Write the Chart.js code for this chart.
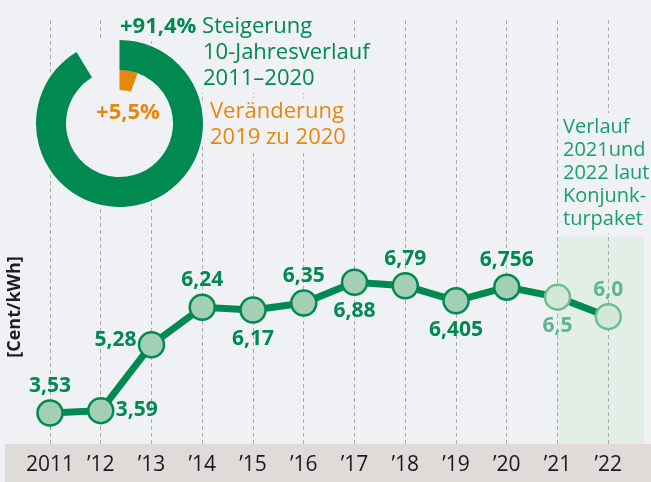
<!DOCTYPE html>
<html><head><meta charset="utf-8">
<script src="https://cdn.jsdelivr.net/npm/chart.js@4/dist/chart.umd.min.js"></script>
<style>
html,body{margin:0;padding:0;background:#f0f1f5;}
#wrap{position:relative;width:651px;height:482px;overflow:hidden;}
#mainBox{position:absolute;left:0;top:0;width:651px;height:482px;}
#donutBox{position:absolute;left:36px;top:40px;width:167px;height:167px;}
</style></head><body>
<div id="wrap">
  <div id="mainBox"><canvas id="main"></canvas></div>
  <div id="donutBox"><canvas id="donut"></canvas></div>
</div>
<script>
// ---- data ----
const years = ['2011', '\u201912', '\u201913', '\u201914', '\u201915', '\u201916', '\u201917', '\u201918', '\u201919', '\u201920', '\u201921', '\u201922'];
const prices = [3.53, 3.59, 5.28, 6.24, 6.17, 6.35, 6.88, 6.79, 6.405, 6.756, 6.5, 6.0];
const priceLabels = ['3,53', '3,59', '5,28', '6,24', '6,17', '6,35', '6,88', '6,79', '6,405', '6,756', '6,5', '6,0'];
const labelSide = ['above', 'right', 'left', 'above', 'below', 'above', 'below', 'above', 'below', 'above', 'below', 'above'];
const projected = [false, false, false, false, false, false, false, false, false, false, true, true];
const donutValues = [91.4, 5.5];
const axisTitle = '[Cent/kWh]';
const noteGreen = ['+91,4%', ' Steigerung', '10-Jahresverlauf', '2011\u20132020'];
const noteOrange = ['+5,5%', 'Ver\u00e4nderung', '2019 zu 2020'];
const noteRight = ['Verlauf', '2021und', '2022 laut', 'Konjunk-', 'turpaket'];

// ---- styles ----
const BG = '#f0f1f5';
const GREEN = '#008950';
const ORANGE = '#e8870b';
const LIGHT = '#62b68c';
const FONT = "'Open Sans', sans-serif";

function draw() {
  Chart.defaults.font.family = FONT;

  function textBoxes() {
    return [
      {t: noteGreen[0], x: 120, y: 33, f: 'bold 22px ' + FONT, c: GREEN, join: 1},
      {t: noteGreen[2], x: 203, y: 59, f: '22px ' + FONT, c: GREEN},
      {t: noteGreen[3], x: 203, y: 85, f: '22px ' + FONT, c: GREEN},
      {t: noteOrange[1], x: 210, y: 118, f: '22px ' + FONT, c: ORANGE},
      {t: noteOrange[2], x: 210, y: 144, f: '22px ' + FONT, c: ORANGE},
      ...noteRight.map((t, i) => ({t, x: 563, y: 133 + i * 23, f: '20px ' + FONT, c: '#17a06b'}))
    ];
  }

  const deco = {
    id: 'deco',
    beforeDraw(chart) {
      const ctx = chart.ctx;
      ctx.save();
      ctx.fillStyle = BG;
      ctx.fillRect(0, 0, chart.width, chart.height);
      ctx.fillStyle = '#dfdbd9';
      ctx.fillRect(5, 444, chart.width - 5, chart.height - 444);
      const xs = chart.scales.x;
      const x21 = xs.getPixelForValue(10);
      ctx.fillStyle = '#e2efe7';
      ctx.fillRect(x21, 237, 644 - x21, 444 - 237);
      ctx.restore();
    },
    beforeDatasetsDraw(chart) {
      const ctx = chart.ctx;
      ctx.save();
      ctx.fillStyle = BG;
      ctx.beginPath();
      ctx.arc(119.5, 123.5, 86, 0, Math.PI * 2);
      ctx.fill();
      for (const b of textBoxes()) {
        ctx.font = b.f;
        let w = ctx.measureText(b.t).width;
        if (b.join) { ctx.font = '22px ' + FONT; w += ctx.measureText(noteGreen[1]).width; }
        ctx.fillRect(b.x - 4, b.y - 20, w + 8, 28);
      }
      ctx.restore();
    },
    afterDraw(chart) {
      const ctx = chart.ctx;
      ctx.save();
      ctx.textBaseline = 'alphabetic';
      ctx.textAlign = 'left';
      for (const b of textBoxes()) {
        ctx.font = b.f; ctx.fillStyle = b.c;
        ctx.fillText(b.t, b.x, b.y);
        if (b.join) {
          const w = ctx.measureText(b.t).width;
          ctx.font = '22px ' + FONT;
          ctx.fillText(noteGreen[1], b.x + w, b.y);
        }
      }
      ctx.font = 'bold 22px ' + FONT; ctx.fillStyle = ORANGE; ctx.textAlign = 'center';
      ctx.fillText(noteOrange[0], 128, 119);
      // y axis title
      ctx.translate(15, 307);
      ctx.rotate(-Math.PI / 2);
      ctx.font = 'bold 18px ' + FONT; ctx.fillStyle = '#1e1e1e';
      ctx.textBaseline = 'middle';
      ctx.fillText(axisTitle, 0, 0);
      ctx.restore();
    },
    afterDatasetsDraw(chart) {
      const ctx = chart.ctx;
      const meta = chart.getDatasetMeta(0);
      ctx.save();
      ctx.font = 'bold 21px ' + FONT;
      ctx.textBaseline = 'middle';
      meta.data.forEach((pt, i) => {
        ctx.fillStyle = projected[i] ? LIGHT : GREEN;
        const side = labelSide[i];
        if (side === 'above') { ctx.textAlign = 'center'; ctx.fillText(priceLabels[i], pt.x, pt.y - 27); }
        else if (side === 'below') { ctx.textAlign = 'center'; ctx.fillText(priceLabels[i], pt.x, pt.y + 29); }
        else if (side === 'right') { ctx.textAlign = 'left'; ctx.fillText(priceLabels[i], pt.x + 15, pt.y - 1); }
        else { ctx.textAlign = 'right'; ctx.fillText(priceLabels[i], pt.x - 15, pt.y - 5); }
      });
      ctx.restore();
    }
  };

  new Chart(document.getElementById('main'), {
    type: 'line',
    data: {
      labels: years,
      datasets: [{
        data: prices,
        borderColor: GREEN,
        borderWidth: 7,
        tension: 0,
        pointRadius: 12.5,
        pointBorderWidth: 2.5,
        pointBackgroundColor: projected.map(p => p ? '#d4e8da' : '#a3cfb4'),
        pointBorderColor: projected.map(p => p ? '#6dbd93' : GREEN),
        clip: false
      }]
    },
    options: {
      responsive: true, maintainAspectRatio: false, animation: false, events: [],
      layout: {padding: {left: 50, right: 42.7, top: 20, bottom: 0}},
      plugins: {legend: {display: false}, tooltip: {enabled: false}},
      scales: {
        x: {
          offset: false,
          grid: {display: true, color: '#ababab', lineWidth: 1, drawTicks: false},
          border: {display: false, dash: [4, 3]},
          ticks: {color: '#1a1a1a', font: {family: FONT, size: 21}, padding: 8, maxRotation: 0, autoSkip: false},
          afterFit(s) { s.height = 38; }
        },
        y: {display: false, min: 2.735, max: 13.605}
      }
    },
    plugins: [deco]
  });

  new Chart(document.getElementById('donut'), {
    type: 'doughnut',
    data: {
      datasets: [
        {data: [donutValues[0], 100 - donutValues[0]], backgroundColor: [GREEN, 'rgba(0,0,0,0)'], borderWidth: 0, weight: 3, hoverOffset: 0, offset: 0},
        {data: [donutValues[1], 100 - donutValues[1]], backgroundColor: [ORANGE, 'rgba(0,0,0,0)'], borderWidth: 0, weight: 2, hoverOffset: 0, offset: 0}
      ]
    },
    options: {
      responsive: true, maintainAspectRatio: false, animation: false, events: [],
      cutout: 33.5,
      layout: {padding: 0},
      plugins: {legend: {display: false}, tooltip: {enabled: false}}
    }
  });
}

Promise.all([
  document.fonts.load('21px "Open Sans"'),
  document.fonts.load('bold 21px "Open Sans"')
]).then(draw, draw);
</script>
</body></html>
